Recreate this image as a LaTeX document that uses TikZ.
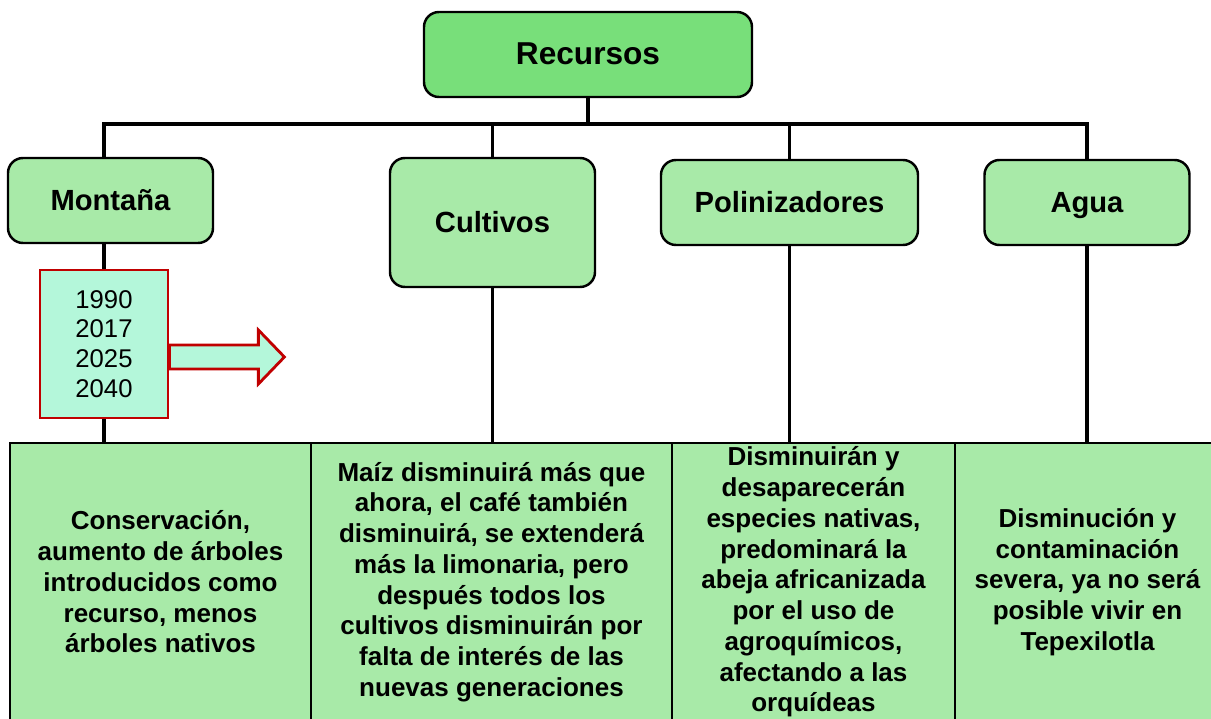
\documentclass[tikz,border=0pt]{standalone}
\usepackage{fontspec}
\setmainfont{Liberation Sans}
\definecolor{verde}{HTML}{A8EAA8}
\definecolor{verdeosc}{HTML}{78DF7A}
\definecolor{menta}{HTML}{B4F7DA}
\definecolor{rojo}{HTML}{C00000}
\tikzset{
  caja/.style={draw, line width=0.7pt, rounded corners=0.15cm, fill=verde, align=center,
    text height=1.55ex, text depth=0.5ex, font=\fontsize{8.3}{10}\selectfont\bfseries},
  celda/.style={draw, line width=0.7pt, fill=verde, minimum height=2.78cm, align=center,
    inner sep=0pt, outer sep=0pt, font=\fontsize{7.4}{8.75}\selectfont\bfseries},
  rama/.style={line width=1.1pt},
  flecha/.style={draw=rojo, line width=0.8pt, fill=menta},
}
\begin{document}
\begin{tikzpicture}[x=1cm,y=1cm]
    \useasboundingbox (0,0) rectangle (12.11,-7.19);
    \clip (0,0) rectangle (12.11,-7.19);
    % raiz
    \node[caja, fill=verdeosc, minimum width=3.28cm, minimum height=0.85cm,
      font=\fontsize{9}{11}\selectfont\bfseries] (rec) at (5.88,-0.545) {Recursos};
    % recursos
    \node[caja, minimum width=2.05cm, minimum height=0.85cm] (mon) at (1.105,-2.005) {Montaña};
    \node[caja, minimum width=2.05cm, minimum height=1.29cm] (cul) at (4.925,-2.225) {Cultivos};
    \node[caja, minimum width=2.57cm, minimum height=0.85cm] (pol) at (7.895,-2.025) {Polinizadores};
    \node[caja, minimum width=2.05cm, minimum height=0.85cm] (agua) at (10.87,-2.025) {Agua};
    % anios
    \node[draw=rojo, line width=0.8pt, fill=menta, minimum width=1.28cm, minimum height=1.48cm,
      align=center, font=\fontsize{7.3}{8.5}\selectfont] (anios) at (1.04,-3.44)
      {1990\\2017\\2025\\2040};
    \draw[flecha] ([yshift=-0.1mm]anios.east) -- ++(0.89,0) -- ++(0,0.15) -- ++(0.26,-0.27)
      -- ++(-0.26,-0.27) -- ++(0,0.15) -- ++(-0.89,0) -- cycle;
    % ramas del arbol
    \coordinate (nudo) at (5.88,-1.24);
    \draw[rama] (rec.south) -- (nudo);
    \draw[rama] (anios.north |- mon.north) -- (anios.north |- nudo) -- (agua.north |- nudo) -- (agua.north);
    \draw[rama] (cul.north) -- (cul.north |- nudo);
    \draw[rama] (pol.north) -- (pol.north |- nudo);
    % escenarios
    \node[celda, minimum width=3.01cm] (c1) at (1.605,-5.82)
      {Conservación,\\aumento de árboles\\introducidos como\\recurso, menos\\árboles nativos};
    \node[celda, minimum width=3.61cm] (c2) at (4.915,-5.82)
      {Maíz disminuirá más que\\ahora, el café también\\disminuirá, se extenderá\\más la limonaria, pero\\después todos los\\cultivos disminuirán por\\falta de interés de las\\nuevas generaciones};
    \node[celda, minimum width=2.83cm] (c3) at (8.135,-5.82)
      {Disminuirán y\\desaparecerán\\especies nativas,\\predominará la\\abeja africanizada\\por el uso de\\agroquímicos,\\afectando a las\\orquídeas};
    \node[celda, minimum width=2.65cm] (c4) at (10.875,-5.82)
      {Disminución y\\contaminación\\severa, ya no será\\posible vivir en\\Tepexilotla};
    % uniones con la tabla
    \draw[rama] (anios.north |- mon.south) -- (anios.north);
    \draw[rama] (anios.south) -- (anios.south |- c1.north);
    \draw[rama] (cul.south) -- (cul.south |- c2.north);
    \draw[rama] (pol.south) -- (pol.south |- c3.north);
    \draw[rama] (agua.south) -- (agua.south |- c4.north);
\end{tikzpicture}
\end{document}
